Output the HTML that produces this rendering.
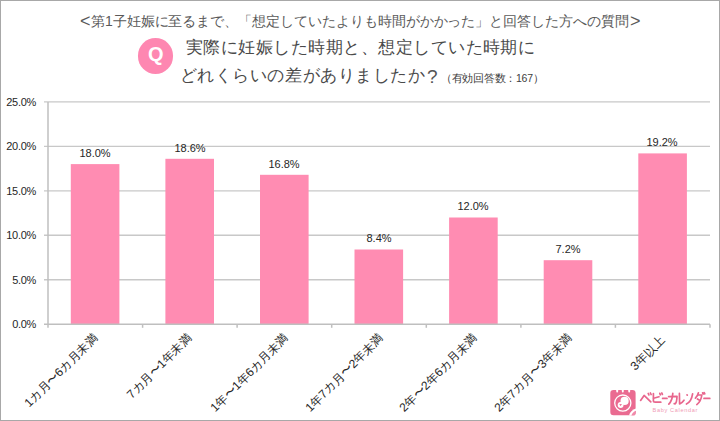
<!DOCTYPE html>
<html lang="ja">
<head>
<meta charset="utf-8">
<style>
@font-face{font-family:"LibCJK";src:local("Liberation Sans");size-adjust:133.3%;unicode-range:U+2000-206F,U+3000-9FFF,U+FF00-FFEF;}
html,body{margin:0;padding:0;}
body{width:720px;height:421px;position:relative;overflow:hidden;background:#fff;font-family:"LibCJK","Liberation Sans",sans-serif;}
#frame{position:absolute;left:0;top:0;width:720px;height:421px;box-sizing:border-box;border:1px solid #a8a8a8;}
.t{position:absolute;white-space:nowrap;line-height:1;}
#hdr{left:77px;top:13.5px;font-size:14px;letter-spacing:-0.05px;color:#595959;}
#q{position:absolute;left:138px;top:38.2px;width:35.4px;height:35.4px;border-radius:50%;background:#fe87b1;color:#fff;font-weight:bold;font-size:20px;line-height:32px;text-align:center;}
#t1{left:186px;top:38.5px;font-size:17px;letter-spacing:0.47px;color:#4a4a4a;}
#t2{left:179.7px;top:67.2px;font-size:17px;letter-spacing:0.55px;color:#4a4a4a;}
#note{left:441px;top:73px;font-size:10.5px;letter-spacing:-0.28px;color:#404040;}
.yl{position:absolute;margin-top:-0.4px;right:684px;font-size:11px;letter-spacing:-0.3px;color:#262626;line-height:1;white-space:nowrap;}
.vl{position:absolute;margin-top:-0.6px;font-size:11px;color:#262626;line-height:1;white-space:nowrap;text-align:center;width:60px;}
.xl{position:absolute;font-size:12px;color:#262626;line-height:1;white-space:nowrap;transform-origin:100% 50%;transform:rotate(-45deg);}
</style>
</head>
<body>
<div id="frame"></div>
<div class="t" id="hdr"><span style="display:inline-block;width:14px"></span>第1子妊娠に至るまで、「想定していたよりも時間がかかった」と回答した方への質問</div>
<div class="t" style="left:80px;top:11.5px;font-size:18px;color:#595959;">&lt;</div>
<div class="t" style="left:630px;top:11.5px;font-size:18px;color:#595959;">&gt;</div>
<div id="q">Q</div>
<div class="t" id="t1">実際に妊娠した時期と、想定していた時期に</div>
<div class="t" id="t2">どれくらいの差がありましたか</div>
<div class="t" style="left:427px;top:66.5px;font-size:19px;color:#555;">?</div>
<div class="t" id="note">（有効回答数：167）</div>

<svg width="720" height="421" style="position:absolute;left:0;top:0">
  <g stroke="#c8c8c8" stroke-width="1.4" fill="none">
    <line x1="44" y1="101.9" x2="710" y2="101.9"/>
    <line x1="44" y1="146.4" x2="710" y2="146.4"/>
    <line x1="44" y1="190.9" x2="710" y2="190.9"/>
    <line x1="44" y1="235.3" x2="710" y2="235.3"/>
    <line x1="44" y1="279.8" x2="710" y2="279.8"/>
  </g>
  <g fill="#ff8cb2">
    <rect x="70.8" y="164.1" width="48.6" height="160.1"/>
    <rect x="165.4" y="158.8" width="48.6" height="165.4"/>
    <rect x="260.0" y="174.8" width="48.6" height="149.4"/>
    <rect x="354.5" y="249.5" width="48.6" height="74.7"/>
    <rect x="449.1" y="217.5" width="48.6" height="106.7"/>
    <rect x="543.7" y="260.2" width="48.6" height="64.0"/>
    <rect x="638.3" y="153.4" width="48.6" height="170.8"/>
  </g>
  <g stroke="#bfbfbf" stroke-width="1.5" fill="none">
    <line x1="48" y1="101.9" x2="48" y2="327.8"/>
    <line x1="44" y1="324.2" x2="710" y2="324.2"/>
    <line x1="142.6" y1="324.2" x2="142.6" y2="327.8"/>
    <line x1="237.1" y1="324.2" x2="237.1" y2="327.8"/>
    <line x1="331.7" y1="324.2" x2="331.7" y2="327.8"/>
    <line x1="426.3" y1="324.2" x2="426.3" y2="327.8"/>
    <line x1="520.9" y1="324.2" x2="520.9" y2="327.8"/>
    <line x1="615.4" y1="324.2" x2="615.4" y2="327.8"/>
    <line x1="710" y1="324.2" x2="710" y2="327.8"/>
  </g>
</svg>

<div class="yl" style="top:97px">25.0%</div>
<div class="yl" style="top:141px">20.0%</div>
<div class="yl" style="top:186px">15.0%</div>
<div class="yl" style="top:230px">10.0%</div>
<div class="yl" style="top:275px">5.0%</div>
<div class="yl" style="top:319px">0.0%</div>

<div class="vl" style="left:65px;top:149px">18.0%</div>
<div class="vl" style="left:160px;top:144px">18.6%</div>
<div class="vl" style="left:254px;top:160px">16.8%</div>
<div class="vl" style="left:349px;top:234px">8.4%</div>
<div class="vl" style="left:443px;top:202px">12.0%</div>
<div class="vl" style="left:538px;top:245px">7.2%</div>
<div class="vl" style="left:632px;top:138px">19.2%</div>

<div class="xl" style="right:624.7px;top:330.4px">1カ月〜6カ月未満</div>
<div class="xl" style="right:530.4px;top:330.4px">7カ月〜1年未満</div>
<div class="xl" style="right:433.7px;top:330.4px">1年〜1年6カ月未満</div>
<div class="xl" style="right:339.3px;top:330.4px">1年7カ月〜2年未満</div>
<div class="xl" style="right:245.2px;top:330.4px">2年〜2年6カ月未満</div>
<div class="xl" style="right:150.2px;top:330.4px">2年7カ月〜3年未満</div>
<div class="xl" style="right:57.4px;top:332.2px">3年以上</div>

<svg width="720" height="421" style="position:absolute;left:0;top:0" viewBox="0 0 720 421">
  <rect x="610.3" y="389.9" width="25.3" height="25.3" rx="3.2" fill="#ea6b91"/>
  <g fill="#fff">
    <rect x="616.3" y="389.4" width="1.8" height="3.2" rx="0.8"/>
    <rect x="621.9" y="389.4" width="1.8" height="3.2" rx="0.8"/>
    <rect x="628.3" y="389.4" width="1.8" height="3.2" rx="0.8"/>
  </g>
  <circle cx="622.8" cy="403.1" r="8.1" fill="none" stroke="#fff" stroke-width="1.3"/>
  <circle cx="624.6" cy="400.9" r="4.1" fill="#fff"/>
  <circle cx="620.6" cy="405.0" r="2.9" fill="#fff"/>
  <path d="M619.4 404.6 a0.7 0.7 0 0 1 1.2 -0.3 a0.7 0.7 0 0 1 1.2 0.3 l-1.2 1.3z" fill="#ea6b91"/>
  <path d="M629.0 415.6 Q630.4 410.4 636.0 408.6 L636.0 411.6 Q636.0 415.6 632.2 415.6 Z" fill="#fff"/>
  <path d="M631.4 415.6 Q632.2 412.2 636.0 410.8 L636.0 412.2 Q636.0 415.6 633 415.6 Z" fill="#f08aaa"/>
  <g fill="none" stroke="#e8668d" stroke-width="1.7" stroke-linecap="round" stroke-linejoin="round">
    <path d="M640.6 400.4 L644.1 395.4 L650.8 401.8"/>
    <path d="M648.2 393.4 l0.7 1.5 M650.4 393.0 l0.7 1.5"/>
    <path d="M653.4 393.6 L653.4 400.8 Q653.4 402.2 655.2 402.2 L660.8 402.2"/>
    <path d="M653.6 398.2 L659.0 396.8"/>
    <path d="M659.8 393.4 l0.6 1.4 M661.8 393.0 l0.6 1.4"/>
    <path d="M662.6 398.4 L667.0 398.4"/>
    <path d="M668.6 396.6 L677.0 396.3 Q676.8 402.8 675.2 403.8 L674.2 403.6"/>
    <path d="M672.8 393.4 Q672.4 400.4 668.8 404.2"/>
    <path d="M679.4 393.4 L679.6 404.0 Q682.4 402.6 684.0 400.2"/>
    <path d="M687.0 394.8 l0.3 0.3"/>
    <path d="M686.4 404.0 Q691.4 401.6 692.6 393.8"/>
    <path d="M698.4 392.8 Q697.6 396.4 695.4 398.2"/>
    <path d="M697.8 395.0 L701.8 395.0 Q701.0 401.6 696.8 404.6"/>
    <path d="M697.4 399.0 L700.0 400.4"/>
    <path d="M702.6 392.8 l0.6 1.2 M704.2 392.6 l0.6 1.2"/>
    <path d="M704.0 398.4 L709.8 398.4"/>
  </g>
</svg>
<div class="t" style="left:652.5px;top:407.7px;font-size:5.6px;letter-spacing:0.65px;color:#f09bb6;">Baby Calendar</div>

</body>
</html>
